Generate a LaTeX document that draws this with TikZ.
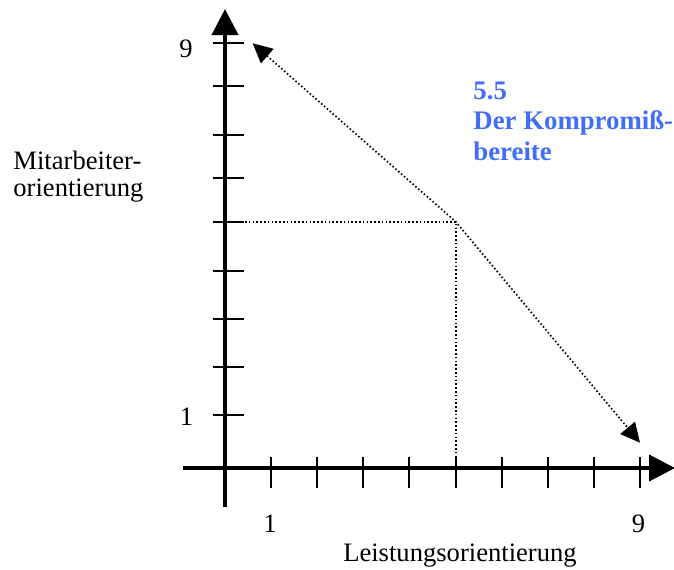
\documentclass[tikz,border=0pt]{standalone}
\usepackage{fontspec}
\setmainfont{Liberation Serif}
\usepackage{xcolor}
\usepackage{tikz}
\usetikzlibrary{arrows.meta}
\definecolor{kblue}{RGB}{66,110,245}
\tikzset{
  kgrid/.style={x=0.5pt, y=-0.5pt, font=\fontsize{13.3}{13.5}\selectfont},
  k axis/.style={line width=2pt, -{Triangle[length=13pt, width=13pt]}},
  k tick/.style={line width=1pt},
  k dot/.style={line width=0.85pt, dash pattern=on 0.75pt off 1.15pt},
  k arr/.style={k dot, {Triangle[length=9.7pt, width=9.5pt]}-{Triangle[length=9.7pt, width=9.5pt]}},
  k num/.style={inner sep=0pt, anchor=base},
  k lab/.style={inner sep=0pt, align=left, anchor=base west},
  k style/.style={k lab, text=kblue, font=\fontsize{13.4}{15.25}\selectfont\bfseries},
}

\begin{document}
\begin{tikzpicture}[kgrid]
\useasboundingbox (0,0) rectangle (674,569);
% ---- axes ----
\coordinate (ya) at (225,507); \coordinate (yb) at (225,9);
\coordinate (xa) at (183,468); \coordinate (xb) at (675,468);
\draw[k axis] (ya) -- (yb);
\draw[k axis] (xa) -- (xb);
\foreach \yy in {43,86,134.7,178.3,221.7,270.7,319,367.3,415}
  \draw[k tick] (213,\yy) -- (244,\yy);
\foreach \xx in {270.7,316.7,362.7,409,455.7,502,548,594,640}
  \draw[k tick] (\xx,457) -- (\xx,488);
% ---- scale numbers ----
\node[k num] (y9) at (186,57) {9};
\node[k num] (y1) at (186.5,425) {1};
\node[k num] (x1) at (270,532) {1};
\node[k num] (x9) at (638.5,532) {9};
% ---- axis titles ----
\node[k lab] (ytit) at (13,196) {Mitarbeiter-\\orientierung};
\node[k num] (xtit) at (460,561.7) {Leistungsorientierung};
% ---- style 5.5 ----
\coordinate (p55) at (455.7,221.7);
\coordinate (hl) at (245,221.7); \coordinate (vl) at (455.7,457);
\coordinate (tl) at (252.7,43.3); \coordinate (br) at (640,442.7);
\draw[k dot] (hl) -- (p55) -- (vl);
\draw[k arr] (tl) -- (p55) -- (br);
\node[k style] (s55) at (473,160) {5.5\\Der Kompromiß-\\bereite};
\end{tikzpicture}
\end{document}
